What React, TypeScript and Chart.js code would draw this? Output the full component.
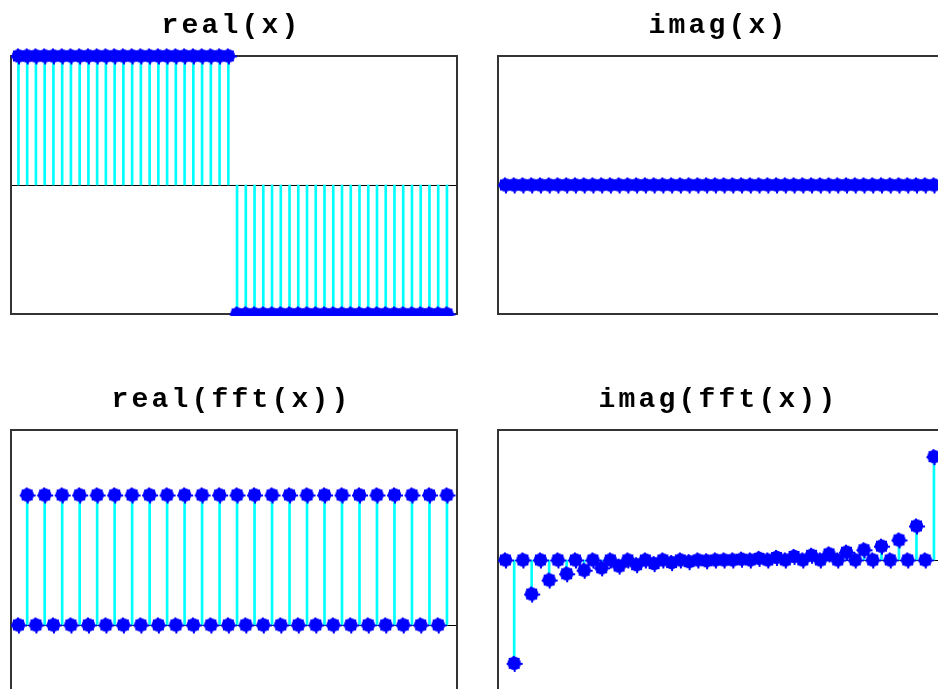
import React, { useEffect, useRef } from 'react';
import { Chart, registerables } from 'chart.js';

Chart.register(...registerables);

// ---- data ----
const sampleIndex = [
  1, 2, 3, 4, 5, 6, 7, 8, 9, 10, 11, 12, 13, 14, 15, 16, 17, 18, 19, 20, 21, 22, 23, 24, 25,
  26, 27, 28, 29, 30, 31, 32, 33, 34, 35, 36, 37, 38, 39, 40, 41, 42, 43, 44, 45, 46, 47, 48, 49, 50,
];

const realX = [
  1, 1, 1, 1, 1, 1, 1, 1, 1, 1, 1, 1, 1, 1, 1, 1, 1, 1, 1, 1, 1, 1, 1, 1, 1,
  -1, -1, -1, -1, -1, -1, -1, -1, -1, -1, -1, -1, -1, -1, -1, -1, -1, -1, -1, -1, -1, -1, -1, -1, -1,
];

const imagX = [
  0, 0, 0, 0, 0, 0, 0, 0, 0, 0, 0, 0, 0, 0, 0, 0, 0, 0, 0, 0, 0, 0, 0, 0, 0,
  0, 0, 0, 0, 0, 0, 0, 0, 0, 0, 0, 0, 0, 0, 0, 0, 0, 0, 0, 0, 0, 0, 0, 0, 0,
];

const realFFT = [
  0, 2, 0, 2, 0, 2, 0, 2, 0, 2, 0, 2, 0, 2, 0, 2, 0, 2, 0, 2, 0, 2, 0, 2, 0,
  2, 0, 2, 0, 2, 0, 2, 0, 2, 0, 2, 0, 2, 0, 2, 0, 2, 0, 2, 0, 2, 0, 2, 0, 2,
];

const imagFFT = [
  0, -31.79, 0, -10.48, 0, -6.16, 0, -4.25, 0, -3.15, 0, -2.42, 0, -1.88, 0, -1.45, 0, -1.1, 0, -0.79, 0, -0.51, 0, -0.25, 0,
  0, 0, 0.25, 0, 0.51, 0, 0.79, 0, 1.1, 0, 1.45, 0, 1.88, 0, 2.42, 0, 3.15, 0, 4.25, 0, 6.16, 0, 10.48, 0, 31.79,
];

const panelTitles = ['real(x)', 'imag(x)', 'real(fft(x))', 'imag(fft(x))'];
const panelSeries = [realX, imagX, realFFT, imagFFT];
const yMins = [-1, -1, -1, -40];
const yMaxs = [1, 1, 3, 40];
const xMin = 0.15;
const xMax = 51.15;

// ---- layout / style ----
const CANVAS_W = 469;
const CANVAS_H = 316;
const panelLefts = [0, 487, 0, 487];
const panelTops = [0, 0, 374, 374];
const panelPadBottom = [2, 2, 0, 0];

function makeMarker(): HTMLCanvasElement {
  const c = document.createElement('canvas');
  c.width = 19;
  c.height = 19;
  const g = c.getContext('2d')!;
  g.fillStyle = '#0000ff';
  g.beginPath();
  g.arc(9.5, 9.5, 6.7, 0, Math.PI * 2);
  g.fill();
  for (let i = 0; i < 8; i++) {
    const a = (i * Math.PI) / 4;
    const px = 9.5 + 7.0 * Math.cos(a);
    const py = 9.5 + 7.0 * Math.sin(a);
    g.fillRect(Math.round(px - 1), Math.round(py - 1), 2, 2);
  }
  return c;
}

const framePlugin = {
  id: 'frameAndZero',
  beforeDraw(chart: any) {
    (chart.ctx as any).letterSpacing = '3.2px';
  },
  beforeDatasetsDraw(chart: any) {
    const { ctx, chartArea: a, scales } = chart;
    ctx.save();
    (ctx as any).letterSpacing = '0px';
    const zy = Math.round(scales.y.getPixelForValue(0)) + 0.5;
    ctx.strokeStyle = '#000';
    ctx.lineWidth = 1;
    ctx.beginPath();
    ctx.moveTo(a.left, zy);
    ctx.lineTo(a.right, zy);
    ctx.stroke();
    ctx.strokeStyle = '#333';
    ctx.lineWidth = 2;
    ctx.strokeRect(a.left, a.top, a.right - a.left, a.bottom - a.top);
    ctx.restore();
  },
};

function Panel({ idx }: { idx: number }) {
  const ref = useRef<HTMLCanvasElement | null>(null);
  useEffect(() => {
    if (!ref.current) return;
    const marker = makeMarker();
    const pts = sampleIndex.map((x, i) => ({ x, y: panelSeries[idx][i] }));
    const chart = new Chart(ref.current, {
      type: 'bar',
      data: {
        datasets: [
          {
            type: 'scatter',
            data: pts,
            pointStyle: marker,
            pointRadius: 7,
            clip: false,
            order: 0,
          } as any,
          {
            type: 'bar',
            data: pts,
            backgroundColor: '#00ffff',
            borderWidth: 0,
            barThickness: 2,
            order: 1,
          } as any,
        ],
      },
      options: {
        animation: false,
        responsive: false,
        maintainAspectRatio: false,
        events: [],
        layout: { autoPadding: false, padding: { left: 6, right: 12, top: 0, bottom: panelPadBottom[idx] } },
        plugins: {
          legend: { display: false },
          tooltip: { enabled: false },
          title: {
            display: true,
            text: panelTitles[idx],
            color: '#000',
            font: { family: '"Liberation Mono", "DejaVu Sans Mono", monospace', size: 28, weight: 'bold', lineHeight: 1 },
            padding: { top: 11.5, bottom: 16.5 },
          },
        },
        scales: {
          x: { type: 'linear', min: xMin, max: xMax, display: false, offset: false },
          y: {
            type: 'linear',
            min: yMins[idx],
            max: yMaxs[idx],
            display: true,
            ticks: { display: false },
            grid: { display: false },
            border: { display: false },
            afterFit: (s: any) => {
              s.width = 5;
            },
          },
        },
      } as any,
      plugins: [framePlugin as any],
    });
    return () => chart.destroy();
  }, [idx]);
  return (
    <canvas
      ref={ref}
      width={CANVAS_W}
      height={CANVAS_H}
      style={{
        position: 'absolute',
        left: panelLefts[idx],
        top: panelTops[idx],
        width: CANVAS_W,
        height: CANVAS_H,
      }}
    />
  );
}

export default function App() {
  return (
    <div
      style={{
        position: 'fixed',
        left: 0,
        top: 0,
        width: 938,
        height: 689,
        overflow: 'hidden',
        background: '#fff',
      }}
    >
      {[0, 1, 2, 3].map((i) => (
        <Panel key={i} idx={i} />
      ))}
    </div>
  );
}
